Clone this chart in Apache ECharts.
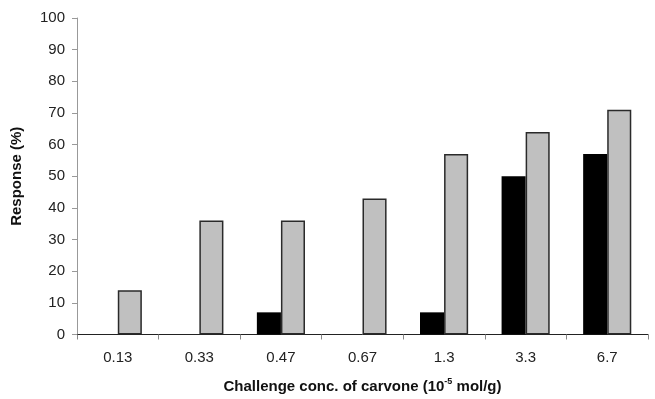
<!DOCTYPE html>
<html>
<head>
<meta charset="utf-8">
<script src="https://cdn.jsdelivr.net/npm/echarts@6/dist/echarts.min.js"></script>
<style>
  html, body { margin: 0; padding: 0; background: #fff; }
  #chart { width: 655px; height: 399px; }
</style>
</head>
<body>
<div id="chart"></div>
<script>
var categories = ['0.13', '0.33', '0.47', '0.67', '1.3', '3.3', '6.7'];
var blackValues = [0, 0, 7, 0, 7, 50, 57];
var greyValues = [14, 36, 36, 43, 57, 64, 71];
var yTicks = { min: 0, max: 100, interval: 10 };

var option = {
    animation: false,
    grid: {
        left: 77,
        right: 7,
        top: 18,
        bottom: 63
    },
    xAxis: {
        type: 'category',
        data: categories,
        name: '{b|Challenge conc. of carvone (10}{sup|-5}{b| mol/g)}',
        nameLocation: 'middle',
        nameGap: 43,
        nameTextStyle: {
            rich: {
                b: { fontFamily: 'Liberation Sans', fontWeight: 'bold', fontSize: 15, color: '#111' },
                sup: { fontFamily: 'Liberation Sans', fontWeight: 'bold', fontSize: 9, color: '#111', padding: [0, 0, 9, 0] }
            }
        },
        axisLine: { lineStyle: { color: '#222', width: 1 } },
        axisTick: { show: true, length: 5, lineStyle: { color: '#888' } },
        axisLabel: { fontFamily: 'Liberation Sans', fontSize: 15, color: '#222', margin: 16 }
    },
    yAxis: {
        type: 'value',
        min: yTicks.min,
        max: yTicks.max,
        interval: yTicks.interval,
        name: 'Response (%)',
        nameLocation: 'middle',
        nameGap: 53,
        nameTextStyle: { fontFamily: 'Liberation Sans', fontWeight: 'bold', fontSize: 15, color: '#111' },
        axisLine: { show: true, lineStyle: { color: '#999', width: 1 } },
        axisTick: { show: true, length: 5, lineStyle: { color: '#999' } },
        splitLine: { show: false },
        axisLabel: { fontFamily: 'Liberation Sans', fontSize: 15, color: '#222', margin: 12 }
    },
    series: [
        {
            name: 'black',
            type: 'bar',
            data: blackValues,
            barGap: '0%',
            barCategoryGap: '41%',
            itemStyle: { color: '#000', borderWidth: 0 }
        },
        {
            name: 'grey',
            type: 'bar',
            data: greyValues,
            barGap: '0%',
            barCategoryGap: '41%',
            itemStyle: { color: '#c0c0c0', borderColor: '#2a2a2a', borderWidth: 1.5 }
        }
    ]
};

var chart = echarts.init(document.getElementById('chart'), null, { renderer: 'canvas' });
chart.setOption(option);
</script>
</body>
</html>
